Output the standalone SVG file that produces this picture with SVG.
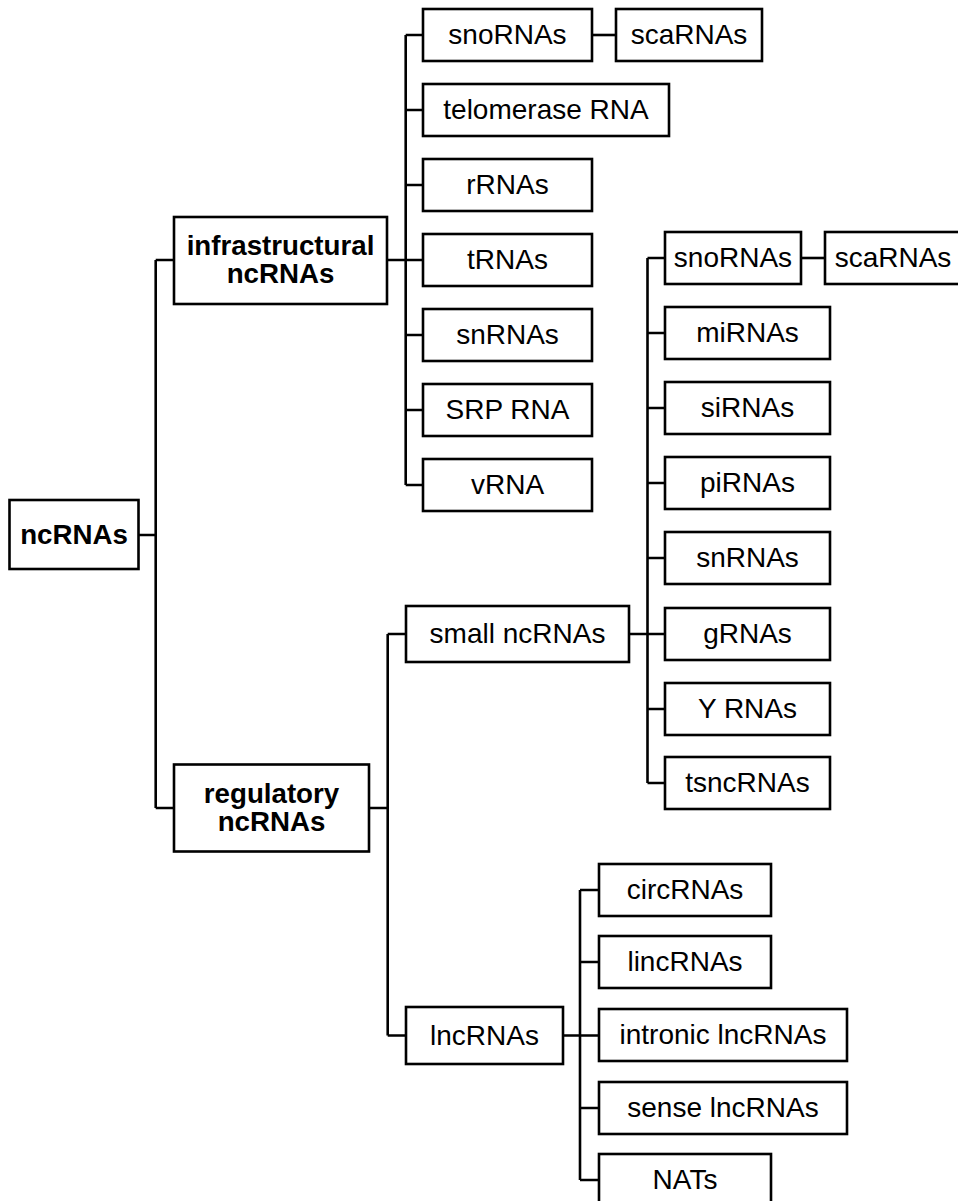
<svg xmlns="http://www.w3.org/2000/svg" width="958" height="1201" viewBox="0 0 958 1201">
<style>
.b{fill:#fff;stroke:#000;stroke-width:2.6}
.t{font-family:"Liberation Sans",Arial,sans-serif;font-size:28px;fill:#000;text-anchor:middle}
.bd{font-weight:bold;font-size:27.7px}
.c{fill:none;stroke:#000;stroke-width:2.6}
</style>
<rect width="958" height="1201" fill="#fff"/>
<g id="connectors">
<path class="c" d="M138.5 535H155.7M155.7 260V808M155.7 260H174M155.7 808H174"/>
<path class="c" d="M387 260H405.7M405.7 35V485M405.7 35H423M405.7 110H423M405.7 185H423M405.7 260H423M405.7 335H423M405.7 410H423M405.7 485H423"/>
<path class="c" d="M592 35H616"/>
<path class="c" d="M369 808H387.7M387.7 634V1035.5M387.7 634H406M387.7 1035.5H406"/>
<path class="c" d="M629 634H647.5M647.5 258V783M647.5 258H665M647.5 333H665M647.5 408H665M647.5 483H665M647.5 558H665M647.5 634H665M647.5 709H665M647.5 783H665"/>
<path class="c" d="M801 258H825"/>
<path class="c" d="M563 1035.5H580M580 890V1180M580 890H599M580 962H599M580 1035.5H599M580 1108H599M580 1180H599"/>
</g>
<g id="n-ncRNAs"><rect class="b" x="9.5" y="500" width="129" height="69"/><text class="t bd" x="74" y="543.5">ncRNAs</text></g>
<g id="n-infra"><rect class="b" x="174" y="217" width="213" height="87"/><text class="t bd" x="280.5" y="255">infrastructural</text><text class="t bd" x="280.5" y="283">ncRNAs</text></g>
<g id="n-reg"><rect class="b" x="174" y="764.5" width="195" height="87"/><text class="t bd" x="271.5" y="802.5">regulatory</text><text class="t bd" x="271.5" y="830.5">ncRNAs</text></g>
<g id="n-sno1"><rect class="b" x="423" y="9" width="169" height="52"/><text class="t" x="507.5" y="44">snoRNAs</text></g>
<g id="n-sca1"><rect class="b" x="616" y="9" width="146" height="52"/><text class="t" x="689" y="44">scaRNAs</text></g>
<g id="n-telo"><rect class="b" x="423" y="84" width="246" height="52"/><text class="t" x="546" y="119">telomerase RNA</text></g>
<g id="n-rRNA"><rect class="b" x="423" y="159" width="169" height="52"/><text class="t" x="507.5" y="194">rRNAs</text></g>
<g id="n-tRNA"><rect class="b" x="423" y="234" width="169" height="52"/><text class="t" x="507.5" y="269">tRNAs</text></g>
<g id="n-snRNA1"><rect class="b" x="423" y="309" width="169" height="52"/><text class="t" x="507.5" y="344">snRNAs</text></g>
<g id="n-SRP"><rect class="b" x="423" y="384" width="169" height="52"/><text class="t" x="507.5" y="419">SRP RNA</text></g>
<g id="n-vRNA"><rect class="b" x="423" y="459" width="169" height="52"/><text class="t" x="507.5" y="494">vRNA</text></g>
<g id="n-small"><rect class="b" x="406" y="606" width="223" height="56"/><text class="t" x="517.5" y="643">small ncRNAs</text></g>
<g id="n-lnc"><rect class="b" x="406" y="1007" width="157" height="57"/><text class="t" x="484.5" y="1045">lncRNAs</text></g>
<g id="n-sno2"><rect class="b" x="665" y="232" width="136" height="52"/><text class="t" x="733" y="267">snoRNAs</text></g>
<g id="n-sca2"><rect class="b" x="825" y="232" width="140" height="52"/><text class="t" x="893" y="267">scaRNAs</text></g>
<g id="n-mi"><rect class="b" x="665" y="307" width="165" height="52"/><text class="t" x="747.5" y="342">miRNAs</text></g>
<g id="n-si"><rect class="b" x="665" y="382" width="165" height="52"/><text class="t" x="747.5" y="417">siRNAs</text></g>
<g id="n-pi"><rect class="b" x="665" y="457" width="165" height="52"/><text class="t" x="747.5" y="492">piRNAs</text></g>
<g id="n-snRNA2"><rect class="b" x="665" y="532" width="165" height="52"/><text class="t" x="747.5" y="567">snRNAs</text></g>
<g id="n-g"><rect class="b" x="665" y="608" width="165" height="52"/><text class="t" x="747.5" y="643">gRNAs</text></g>
<g id="n-Y"><rect class="b" x="665" y="683" width="165" height="52"/><text class="t" x="747.5" y="718">Y RNAs</text></g>
<g id="n-tsnc"><rect class="b" x="665" y="757" width="165" height="52"/><text class="t" x="747.5" y="792">tsncRNAs</text></g>
<g id="n-circ"><rect class="b" x="599" y="864" width="172" height="52"/><text class="t" x="685" y="899">circRNAs</text></g>
<g id="n-linc"><rect class="b" x="599" y="936" width="172" height="52"/><text class="t" x="685" y="971">lincRNAs</text></g>
<g id="n-intronic"><rect class="b" x="599" y="1009" width="248" height="52"/><text class="t" x="723" y="1044">intronic lncRNAs</text></g>
<g id="n-sense"><rect class="b" x="599" y="1082" width="248" height="52"/><text class="t" x="723" y="1117">sense lncRNAs</text></g>
<g id="n-NATs"><rect class="b" x="599" y="1154" width="172" height="52"/><text class="t" x="685" y="1189">NATs</text></g>
</svg>
